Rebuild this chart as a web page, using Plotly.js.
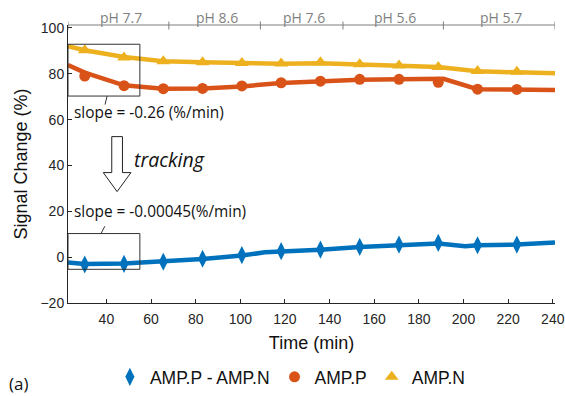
<!DOCTYPE html>
<html>
<head>
<meta charset="utf-8">
<script src="https://cdn.plot.ly/plotly-3.0.1.min.js"></script>
<style>html,body{margin:0;padding:0;background:#fff;}#chart{width:565px;height:396px;}</style>
</head>
<body>
<div id="chart"></div>
<script>
// ---- data ----
const markerTime = [30.3, 47.9, 65.5, 83.1, 100.7, 118.3, 135.9, 153.5, 171.1, 188.7, 206.3, 223.9];
const diffMarkers = [-3.2, -2.9, -2.0, -0.7, 0.9, 2.6, 3.3, 4.5, 5.5, 6.2, 5.2, 5.5];
const ampPMarkers = [79.0, 74.8, 73.5, 73.6, 74.7, 76.1, 76.8, 77.6, 77.6, 76.3, 73.3, 73.2];
const ampNMarkers = [90.3, 87.1, 85.5, 85.1, 84.7, 84.5, 85.0, 84.2, 83.6, 83.0, 81.2, 80.9];

const diffLineTime = [22.8, 30.3, 47.9, 65.5, 83.1, 100.7, 111, 118.3, 135.9, 153.5, 171.1, 188.7, 200.8, 206.3, 223.9, 241];
const diffLine     = [-2.3, -3.0, -2.8, -2.0, -0.8, 0.7, 2.1, 2.5, 3.2, 4.4, 5.4, 6.0, 4.8, 5.2, 5.5, 6.4];
const ampPLineTime = [22.8, 30.3, 47.9, 65.5, 83.1, 100.7, 118.3, 135.9, 153.5, 171.1, 191, 206.3, 223.9, 241];
const ampPLine     = [83.8, 80.5, 75.0, 73.5, 73.6, 74.5, 76.0, 76.8, 77.4, 77.6, 77.8, 73.3, 73.2, 72.9];
const ampNLineTime = [22.8, 30.3, 47.9, 65.5, 83.1, 100.7, 118.3, 135.9, 153.5, 171.1, 188.7, 206.3, 223.9, 241];
const ampNLine     = [92.0, 90.3, 87.3, 85.5, 85.1, 84.7, 84.4, 84.6, 84.0, 83.4, 83.0, 81.1, 80.8, 80.2];

const seriesNames = ['AMP.P - AMP.N', 'AMP.P', 'AMP.N'];
const phEdges = [22.8, 68, 109, 146, 191, 241];
const phLabels = ['pH 7.7', 'pH 8.6', 'pH 7.6', 'pH 5.6', 'pH 5.7'];
const xTicks = [40, 60, 80, 100, 120, 140, 160, 180, 200, 220, 240];
const yTicks = [-20, 0, 20, 40, 60, 80, 100];

// ---- styling ----
const C_BLUE = '#0072BD', C_ORANGE = '#D95319', C_YELLOW = '#EDB120';
const AX = '#262626';
const HUM = '"Open Sans", "Noto Sans", sans-serif';
const SANS = '"Liberation Sans", Arial, sans-serif';

const traces = [
  {x: ampNLineTime, y: ampNLine, mode: 'lines', line: {color: C_YELLOW, width: 4.5}, showlegend: false, hoverinfo: 'skip'},
  {x: ampPLineTime, y: ampPLine, mode: 'lines', line: {color: C_ORANGE, width: 4.5}, showlegend: false, hoverinfo: 'skip'},
  {x: diffLineTime, y: diffLine, mode: 'lines', line: {color: C_BLUE, width: 4.5}, showlegend: false, hoverinfo: 'skip'},
  {x: markerTime, y: diffMarkers, name: seriesNames[0], mode: 'markers', marker: {symbol: 'diamond-tall', size: 13, color: C_BLUE}},
  {x: markerTime, y: ampPMarkers, name: seriesNames[1], mode: 'markers', marker: {symbol: 'circle', size: 11, color: C_ORANGE}},
  {x: markerTime, y: ampNMarkers, name: seriesNames[2], mode: 'markers', marker: {symbol: 'triangle-up', size: 12, color: C_YELLOW}}
];

const shapes = [];
const annotations = [];
const GRAY = '#7f7f7f';
// pH bracket axis on top
shapes.push({type: 'line', xref: 'x', yref: 'paper', x0: phEdges[0], x1: phEdges[phEdges.length - 1], y0: 1, y1: 1, line: {color: GRAY, width: 1}});
phEdges.forEach(e => {
  shapes.push({type: 'line', xref: 'x', yref: 'paper', x0: e, x1: e, y0: 1 + 3.5 / 278, y1: 1 - 4.5 / 278, line: {color: GRAY, width: 1}});
});
phLabels.forEach((lab, i) => {
  annotations.push({xref: 'x', yref: 'paper', x: (phEdges[i] + phEdges[i + 1]) / 2 + 1, y: 1 + 7 / 278, yanchor: 'middle', text: lab, showarrow: false,
    font: {family: HUM, size: 14, color: GRAY}});
});
// highlight boxes
shapes.push({type: 'rect', xref: 'x', yref: 'y', x0: 22.8, x1: 55, y0: 70.3, y1: 92.9, line: {color: '#333', width: 1}});
shapes.push({type: 'rect', xref: 'x', yref: 'y', x0: 22.8, x1: 55, y0: -5.3, y1: 10.3, line: {color: '#333', width: 1}});
// leader lines
shapes.push({type: 'line', xref: 'x', yref: 'y', x0: 40.3, y0: 70.3, x1: 39.4, y1: 66.6, line: {color: '#333', width: 1}});
shapes.push({type: 'line', xref: 'x', yref: 'y', x0: 37.6, y0: 10.3, x1: 39.3, y1: 13.5, line: {color: '#333', width: 1}});
// hollow down arrow
shapes.push({type: 'path', xref: 'x', yref: 'y',
  path: 'M 42.4 52.6 L 47.2 52.6 L 47.2 36.9 L 51.0 36.9 L 44.8 28.6 L 38.6 36.9 L 42.4 36.9 Z',
  line: {color: '#222', width: 1}, fillcolor: 'white'});

annotations.push({xref: 'x', yref: 'y', x: 24.6, y: 63.1, xanchor: 'left', yanchor: 'middle', showarrow: false,
  text: 'slope = -0.26 (%/min)', font: {family: HUM, size: 15.4, color: '#111'}});
annotations.push({xref: 'x', yref: 'y', x: 51.6, y: 42.6, xanchor: 'left', yanchor: 'middle', showarrow: false,
  text: '<i>tracking</i>', font: {family: HUM, size: 19.5, color: '#111'}});
annotations.push({xref: 'x', yref: 'y', x: 24.6, y: 20.0, xanchor: 'left', yanchor: 'middle', showarrow: false,
  text: 'slope = -0.00045(%/min)', font: {family: HUM, size: 15.4, color: '#111'}});
annotations.push({xref: 'paper', yref: 'paper', x: (7 - 68) / 487, y: (303 - 383) / 278, xanchor: 'left', yanchor: 'middle', showarrow: false,
  text: '(a)', font: {family: HUM, size: 17, color: '#111'}});

const layout = {
  width: 565, height: 396,
  margin: {l: 68, r: 10, t: 25, b: 93, autoexpand: false},
  paper_bgcolor: '#fff', plot_bgcolor: '#fff',
  font: {family: SANS, color: AX},
  showlegend: true,
  legend: {orientation: 'h', x: 0.086, xanchor: 'left', y: -0.266, yanchor: 'middle',
    font: {family: SANS, size: 17.5, color: '#111'}, bgcolor: 'rgba(0,0,0,0)'},
  xaxis: {range: [22.8, 241], tickvals: xTicks, ticks: 'inside', ticklen: 4, tickcolor: AX,
    showline: true, linecolor: AX, linewidth: 1, showgrid: false, zeroline: false,
    ticklabelstandoff: 3, automargin: false,
    tickfont: {family: SANS, size: 14, color: AX},
    title: {text: 'Time (min)', font: {family: SANS, size: 18, color: '#111'}, standoff: 10}},
  yaxis: {range: [-20, 101.3], tickvals: yTicks, ticks: 'inside', ticklen: 4, tickcolor: AX,
    showline: true, linecolor: AX, linewidth: 1, showgrid: false, zeroline: false, automargin: false,
    tickfont: {family: SANS, size: 14, color: AX},
    title: {text: 'Signal Change (%)', font: {family: SANS, size: 18, color: '#111'}, standoff: 8}},
  shapes: shapes,
  annotations: annotations
};

Plotly.newPlot('chart', traces, layout, {displayModeBar: false, staticPlot: true});
</script>
</body>
</html>
